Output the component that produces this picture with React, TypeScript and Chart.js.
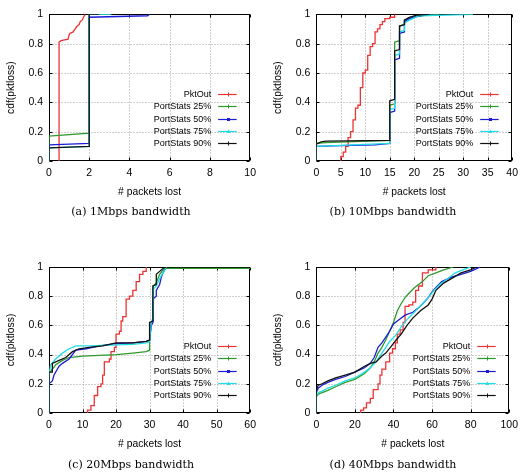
import React, { useEffect, useRef } from 'react';
import { Chart, registerables } from 'chart.js';

Chart.register(...registerables);

// ---------- shared labels / styles ----------
const SERIES_NAMES = ['PktOut', 'PortStats 25%', 'PortStats 50%', 'PortStats 75%', 'PortStats 90%'];
const SERIES_COLORS = ['#ee3333', '#2e9a2e', '#1c1cd8', '#22dde6', '#111111'];
const Y_TICKS = [0, 0.2, 0.4, 0.6, 0.8, 1];
const X_TITLE = '# packets lost';
const Y_TITLE = 'cdf(pktloss)';

// ---------- (a) 1Mbps ----------
const A_X_TICKS = [0, 2, 4, 6, 8, 10];
const A_PKTOUT = [[0.5, 0], [0.5, 0.81], [0.6, 0.82], [0.95, 0.83], [1.0, 0.86], [1.05, 0.87], [1.2, 0.88], [1.3, 0.9], [1.4, 0.92], [1.5, 0.93], [1.55, 0.95], [1.65, 0.96], [1.75, 0.99], [1.8, 1.0]];
const A_PS25 = [[0, 0], [0, 0.17], [2, 0.19], [2, 1.0], [3, 1.0]];
const A_PS50 = [[0, 0], [0, 0.11], [2, 0.12], [2, 0.98], [4.9, 0.99], [5, 1.0]];
const A_PS75 = [[0, 0], [0, 0.09], [2, 0.1], [2, 1.0], [3.1, 1.0]];
const A_PS90 = [[0, 0], [0, 0.09], [2, 0.1], [2, 1.0], [2.5, 1.0]];

// ---------- (b) 10Mbps ----------
const B_X_TICKS = [0, 5, 10, 15, 20, 25, 30, 35, 40];
const B_PKTOUT = [[5, 0], [5, 0.03], [5.5, 0.06], [6, 0.1], [6.5, 0.16], [7, 0.2], [7.5, 0.28], [8, 0.36], [8.5, 0.38], [9, 0.5], [9.5, 0.6], [10, 0.62], [10.5, 0.72], [11, 0.78], [11.5, 0.8], [12, 0.88], [12.5, 0.9], [13, 0.93], [13.5, 0.95], [14, 0.97], [15, 0.98], [16, 1.0]];
const B_PS25 = [[0, 0], [0, 0.12], [2, 0.125], [15, 0.14], [15, 0.38], [16, 0.39], [16, 0.81], [17, 0.82], [17, 0.92], [18, 0.93], [18, 0.96], [19, 0.975], [21, 0.99], [25, 1.0]];
const B_PS50 = [[0, 0], [0, 0.1], [5, 0.105], [12, 0.11], [15, 0.12], [15, 0.33], [16, 0.34], [16, 0.69], [17, 0.7], [17, 0.87], [18, 0.88], [18, 0.95], [19, 0.97], [20, 0.98], [23, 1.0]];
const B_PS75 = [[0, 0], [0, 0.1], [15, 0.12], [15, 0.35], [16, 0.36], [16, 0.72], [17, 0.73], [17, 0.88], [18, 0.89], [18, 0.94], [19, 0.96], [21, 0.99], [32, 1.0]];
const B_PS90 = [[0, 0], [0, 0.115], [1, 0.13], [2, 0.135], [15, 0.14], [15, 0.41], [16, 0.42], [16, 0.75], [17, 0.76], [17, 0.92], [18, 0.93], [18, 0.96], [19, 0.98], [20.5, 0.995], [23, 1.0]];

// ---------- (c) 20Mbps ----------
const C_X_TICKS = [0, 10, 20, 30, 40, 50, 60];
const C_PKTOUT = [[11.5, 0], [11.5, 0.02], [12.5, 0.05], [13.5, 0.12], [14.5, 0.18], [15.5, 0.2], [16, 0.26], [16.5, 0.35], [18, 0.37], [18.5, 0.42], [19.5, 0.45], [20, 0.54], [21, 0.56], [21.5, 0.63], [22, 0.66], [23, 0.78], [24, 0.8], [25, 0.84], [26, 0.9], [27, 0.95], [28, 0.97], [29, 1.0]];
const C_PS25 = [[0, 0], [0, 0.27], [1, 0.3], [2, 0.33], [4, 0.36], [6, 0.38], [10, 0.39], [15, 0.395], [20, 0.4], [25, 0.41], [29, 0.42], [30, 0.43], [30, 0.49], [30.5, 0.62], [31, 0.63], [31, 0.87], [32, 0.89], [33, 0.95], [34, 0.98], [35, 0.99], [60, 0.99]];
const C_PS50 = [[0, 0], [0, 0.2], [1, 0.22], [1.5, 0.26], [3, 0.32], [4, 0.34], [6, 0.37], [8, 0.43], [11, 0.44], [15, 0.46], [20, 0.475], [25, 0.48], [29, 0.49], [30, 0.5], [30.5, 0.6], [31, 0.62], [31, 0.78], [32, 0.8], [32, 0.84], [33, 0.88], [33.5, 0.93], [34, 0.96], [35, 1.0]];
const C_PS75 = [[0, 0], [0, 0.26], [0.5, 0.33], [2, 0.37], [4, 0.41], [6, 0.44], [8, 0.46], [12, 0.46], [18, 0.465], [25, 0.47], [29, 0.48], [30, 0.49], [30.5, 0.62], [31, 0.65], [31.2, 0.85], [32, 0.87], [33, 0.92], [34, 0.96], [35, 1.0]];
const C_PS90 = [[0, 0], [0, 0.28], [1, 0.28], [1, 0.34], [3, 0.36], [5, 0.38], [7, 0.42], [9, 0.44], [12, 0.45], [16, 0.46], [20, 0.48], [25, 0.48], [29, 0.49], [30, 0.5], [30, 0.62], [31, 0.63], [31, 0.87], [32, 0.88], [32, 0.95], [33, 0.97], [34, 0.99], [35, 1.0]];

// ---------- (d) 40Mbps ----------
const D_X_TICKS = [0, 20, 40, 60, 80, 100];
const D_PKTOUT = [[23, 0], [23, 0.02], [24.5, 0.035], [26, 0.07], [28, 0.1], [29.5, 0.16], [32, 0.2], [33, 0.26], [34, 0.3], [36, 0.35], [38, 0.41], [39.5, 0.44], [41, 0.48], [42, 0.54], [43.5, 0.57], [45, 0.62], [46, 0.73], [48, 0.74], [50, 0.76], [51.5, 0.84], [53, 0.87], [55, 0.96], [58, 0.98], [62, 1.0]];
const D_PS25 = [[0, 0], [0, 0.11], [1, 0.13], [3, 0.14], [6, 0.155], [10, 0.18], [15, 0.21], [20, 0.23], [25, 0.27], [28, 0.31], [30, 0.35], [32, 0.41], [34, 0.45], [36, 0.5], [38, 0.56], [40, 0.62], [42, 0.7], [44, 0.75], [46, 0.79], [48, 0.82], [51, 0.86], [55, 0.9], [58, 0.94], [62, 0.96], [66, 0.98], [71, 1.0]];
const D_PS50 = [[0, 0], [0, 0.14], [1, 0.17], [3, 0.19], [6, 0.21], [10, 0.23], [15, 0.25], [20, 0.28], [25, 0.31], [28, 0.34], [30, 0.38], [32, 0.45], [34, 0.48], [36, 0.52], [38, 0.56], [40, 0.61], [43, 0.64], [46, 0.67], [50, 0.69], [53, 0.72], [56, 0.76], [58, 0.79], [60, 0.83], [62, 0.86], [65, 0.9], [70, 0.93], [75, 0.95], [80, 0.97], [85, 1.0]];
const D_PS75 = [[0, 0], [0, 0.12], [1, 0.14], [3, 0.15], [6, 0.17], [10, 0.19], [15, 0.22], [20, 0.24], [25, 0.28], [28, 0.31], [31, 0.35], [34, 0.41], [36, 0.45], [38, 0.49], [41, 0.53], [44, 0.59], [47, 0.64], [50, 0.68], [53, 0.72], [56, 0.76], [58, 0.79], [61, 0.84], [64, 0.88], [68, 0.92], [72, 0.96], [76, 0.98], [80, 1.0]];
const D_PS90 = [[0, 0], [0, 0.16], [1, 0.19], [3, 0.2], [6, 0.22], [10, 0.24], [15, 0.26], [20, 0.28], [25, 0.32], [28, 0.34], [31, 0.35], [34, 0.39], [36, 0.41], [39, 0.46], [42, 0.51], [44, 0.54], [47, 0.6], [50, 0.65], [54, 0.7], [58, 0.74], [60, 0.78], [62, 0.84], [66, 0.89], [70, 0.92], [75, 0.96], [80, 0.98], [83, 1.0]];

const CAPTIONS = ['(a) 1Mbps bandwidth', '(b) 10Mbps bandwidth', '(c) 20Mbps bandwidth', '(d) 40Mbps bandwidth'];

const SANS = "'Liberation Sans', Arial, Helvetica, sans-serif";

type Panel = {
  left: number; top: number; w: number; h: number;
  L: number; T: number; R: number; B: number;
  xTitleY: number; yTitleX: number;
  xTicks: number[];
  series: number[][][];
  stepRed: boolean;
  caption: string; captionY: number;
};

const PANELS: Panel[] = [
  { left: 0, top: 0, w: 262, h: 236, L: 49, T: 14.3, R: 250.7, B: 161, xTitleY: 192, yTitleX: 11, xTicks: A_X_TICKS,
    series: [A_PKTOUT, A_PS25, A_PS50, A_PS75, A_PS90], stepRed: false, caption: CAPTIONS[0], captionY: 212.3 },
  { left: 262, top: 0, w: 262, h: 236, L: 54.3, T: 14.3, R: 256, B: 161, xTitleY: 192, yTitleX: 16, xTicks: B_X_TICKS,
    series: [B_PKTOUT, B_PS25, B_PS50, B_PS75, B_PS90], stepRed: true, caption: CAPTIONS[1], captionY: 212.3 },
  { left: 0, top: 236, w: 262, h: 237, L: 49, T: 31, R: 250.7, B: 177, xTitleY: 208, yTitleX: 11, xTicks: C_X_TICKS,
    series: [C_PKTOUT, C_PS25, C_PS50, C_PS75, C_PS90], stepRed: true, caption: CAPTIONS[2], captionY: 229.3 },
  { left: 262, top: 236, w: 262, h: 237, L: 54.3, T: 31, R: 256, B: 177, xTitleY: 208, yTitleX: 16, xTicks: D_X_TICKS,
    series: [D_PKTOUT, D_PS25, D_PS50, D_PS75, D_PS90], stepRed: true, caption: CAPTIONS[3], captionY: 229.3 },
];

const fmt = (v: any) => String(Math.round(Number(v) * 10) / 10);

const frameGridPlugin = {
  id: 'frameGrid',
  beforeDatasetsDraw(chart: any) {
    const { ctx, chartArea } = chart;
    const { left, right, top, bottom } = chartArea;
    const xs = chart.scales.x;
    const ys = chart.scales.y;
    const l = Math.round(left) + 0.5, r = Math.round(right) - 0.5;
    const t = Math.round(top) + 0.5, b = Math.round(bottom) - 0.5;
    ctx.save();
    ctx.lineWidth = 1;
    ctx.strokeStyle = '#a0a0a0';
    ctx.setLineDash([1, 2]);
    xs.ticks.forEach((tk: any) => {
      if (tk.value > xs.min && tk.value < xs.max) {
        const px = Math.round(xs.getPixelForValue(tk.value)) + 0.5;
        ctx.beginPath(); ctx.moveTo(px, t); ctx.lineTo(px, b); ctx.stroke();
      }
    });
    ys.ticks.forEach((tk: any) => {
      if (tk.value > ys.min && tk.value < ys.max) {
        const py = Math.round(ys.getPixelForValue(tk.value)) + 0.5;
        ctx.beginPath(); ctx.moveTo(l, py); ctx.lineTo(r, py); ctx.stroke();
      }
    });
    ctx.setLineDash([]);
    ctx.strokeStyle = '#000';
    const tl = 3;
    xs.ticks.forEach((tk: any) => {
      const px = Math.round(xs.getPixelForValue(tk.value)) + 0.5;
      ctx.beginPath(); ctx.moveTo(px, b); ctx.lineTo(px, b - tl); ctx.moveTo(px, t); ctx.lineTo(px, t + tl); ctx.stroke();
    });
    ys.ticks.forEach((tk: any) => {
      const py = Math.round(ys.getPixelForValue(tk.value)) + 0.5;
      ctx.beginPath(); ctx.moveTo(l, py); ctx.lineTo(l + tl, py); ctx.moveTo(r, py); ctx.lineTo(r - tl, py); ctx.stroke();
    });
    ctx.strokeRect(l, t, r - l, b - t);
    ctx.restore();
  },
};

function drawMarker(ctx: CanvasRenderingContext2D, i: number, x: number, y: number, color: string) {
  ctx.save();
  ctx.strokeStyle = color;
  ctx.fillStyle = color;
  ctx.lineWidth = 1;
  if (i === 2) {
    ctx.fillRect(x - 1.5, y - 1.5, 3, 3);
  } else if (i === 3) {
    ctx.beginPath(); ctx.moveTo(x, y - 2); ctx.lineTo(x + 2, y + 1.5); ctx.lineTo(x - 2, y + 1.5); ctx.closePath(); ctx.fill();
  } else {
    ctx.beginPath(); ctx.moveTo(x - 2, y); ctx.lineTo(x + 2, y); ctx.moveTo(x, y - 2); ctx.lineTo(x, y + 2); ctx.stroke();
  }
  ctx.restore();
}

const keyPlugin = {
  id: 'gnuKey',
  afterDatasetsDraw(chart: any) {
    const { ctx, chartArea } = chart;
    const { right, bottom } = chartArea;
    ctx.save();
    ctx.font = `9px ${SANS}`;
    ctx.textAlign = 'right';
    ctx.textBaseline = 'middle';
    chart.data.datasets.forEach((ds: any, i: number) => {
      const y = Math.round(bottom - 17.7 - 12.3 * (4 - i)) + 0.5;
      ctx.fillStyle = '#000';
      ctx.fillText(ds.label, right - 39, y);
      ctx.strokeStyle = ds.borderColor;
      ctx.lineWidth = 1.2;
      ctx.beginPath(); ctx.moveTo(right - 32, y); ctx.lineTo(right - 13.5, y); ctx.stroke();
      drawMarker(ctx, i, Math.round(right - 22.5) + 0.5, y, ds.borderColor);
    });
    ctx.restore();
  },
};

function ChartPanel({ p }: { p: Panel }) {
  const ref = useRef<HTMLCanvasElement | null>(null);
  useEffect(() => {
    if (!ref.current) return;
    const datasets = p.series.map((pts, i) => ({
      label: SERIES_NAMES[i],
      data: pts.map(([x, y]) => ({ x, y })),
      borderColor: SERIES_COLORS[i],
      backgroundColor: SERIES_COLORS[i],
      borderWidth: 1.3,
      pointRadius: 0,
      fill: false,
      tension: 0,
      stepped: i === 0 && p.stepRed ? 'before' : false,
      order: 4 - i,
    }));
    const tickFont = { family: SANS, size: 10.5 };
    const titleFont = { family: SANS, size: 10.3, lineHeight: 1.2 };
    const half = (10.3 * 1.2) / 2;
    const chart = new Chart(ref.current, {
      type: 'line',
      data: { datasets } as any,
      options: {
        animation: false,
        responsive: false,
        devicePixelRatio: 1,
        events: [],
        layout: { autoPadding: false, padding: { left: 0, top: p.T, right: p.w - p.R, bottom: 0 } },
        plugins: { legend: { display: false }, tooltip: { enabled: false }, title: { display: false } },
        scales: {
          x: {
            type: 'linear',
            min: p.xTicks[0],
            max: p.xTicks[p.xTicks.length - 1],
            grid: { display: false, drawTicks: false, tickLength: 0 },
            border: { display: false },
            ticks: { padding: 6, font: tickFont, color: '#000', maxRotation: 0, autoSkip: false, callback: fmt },
            afterBuildTicks: (s: any) => { s.ticks = p.xTicks.map((v) => ({ value: v })); },
            afterFit: (s: any) => { s.height = p.h - p.B; },
            title: { display: true, text: X_TITLE, font: titleFont, color: '#000', padding: { top: 0, bottom: p.h - p.xTitleY - half } },
          },
          y: {
            type: 'linear',
            min: 0,
            max: 1,
            grid: { display: false, drawTicks: false, tickLength: 0 },
            border: { display: false },
            ticks: { padding: 6, font: tickFont, color: '#000', autoSkip: false, callback: fmt },
            afterBuildTicks: (s: any) => { s.ticks = Y_TICKS.map((v) => ({ value: v })); },
            afterFit: (s: any) => { s.width = p.L; },
            title: { display: true, text: Y_TITLE, font: titleFont, color: '#000', padding: { top: p.yTitleX - half, bottom: 0 } },
          },
        },
      } as any,
      plugins: [frameGridPlugin, keyPlugin],
    });
    return () => chart.destroy();
  }, [p]);
  return (
    <div style={{ position: 'absolute', left: p.left, top: p.top, width: p.w, height: p.h }}>
      <canvas ref={ref} width={p.w} height={p.h} style={{ display: 'block', width: p.w, height: p.h }} />
      <div
        style={{
          position: 'absolute', left: 0, top: p.captionY - 8, width: p.w, height: 16, lineHeight: '16px',
          textAlign: 'center', whiteSpace: 'nowrap', fontFamily: "'DejaVu Serif', 'Liberation Serif', serif",
          fontSize: 11, color: '#000',
        }}
      >
        {p.caption}
      </div>
    </div>
  );
}

export default function App() {
  return (
    <div style={{ position: 'absolute', left: 0, top: 0, width: 524, height: 473, background: '#fff', overflow: 'hidden' }}>
      {PANELS.map((p, i) => <ChartPanel key={i} p={p} />)}
    </div>
  );
}
